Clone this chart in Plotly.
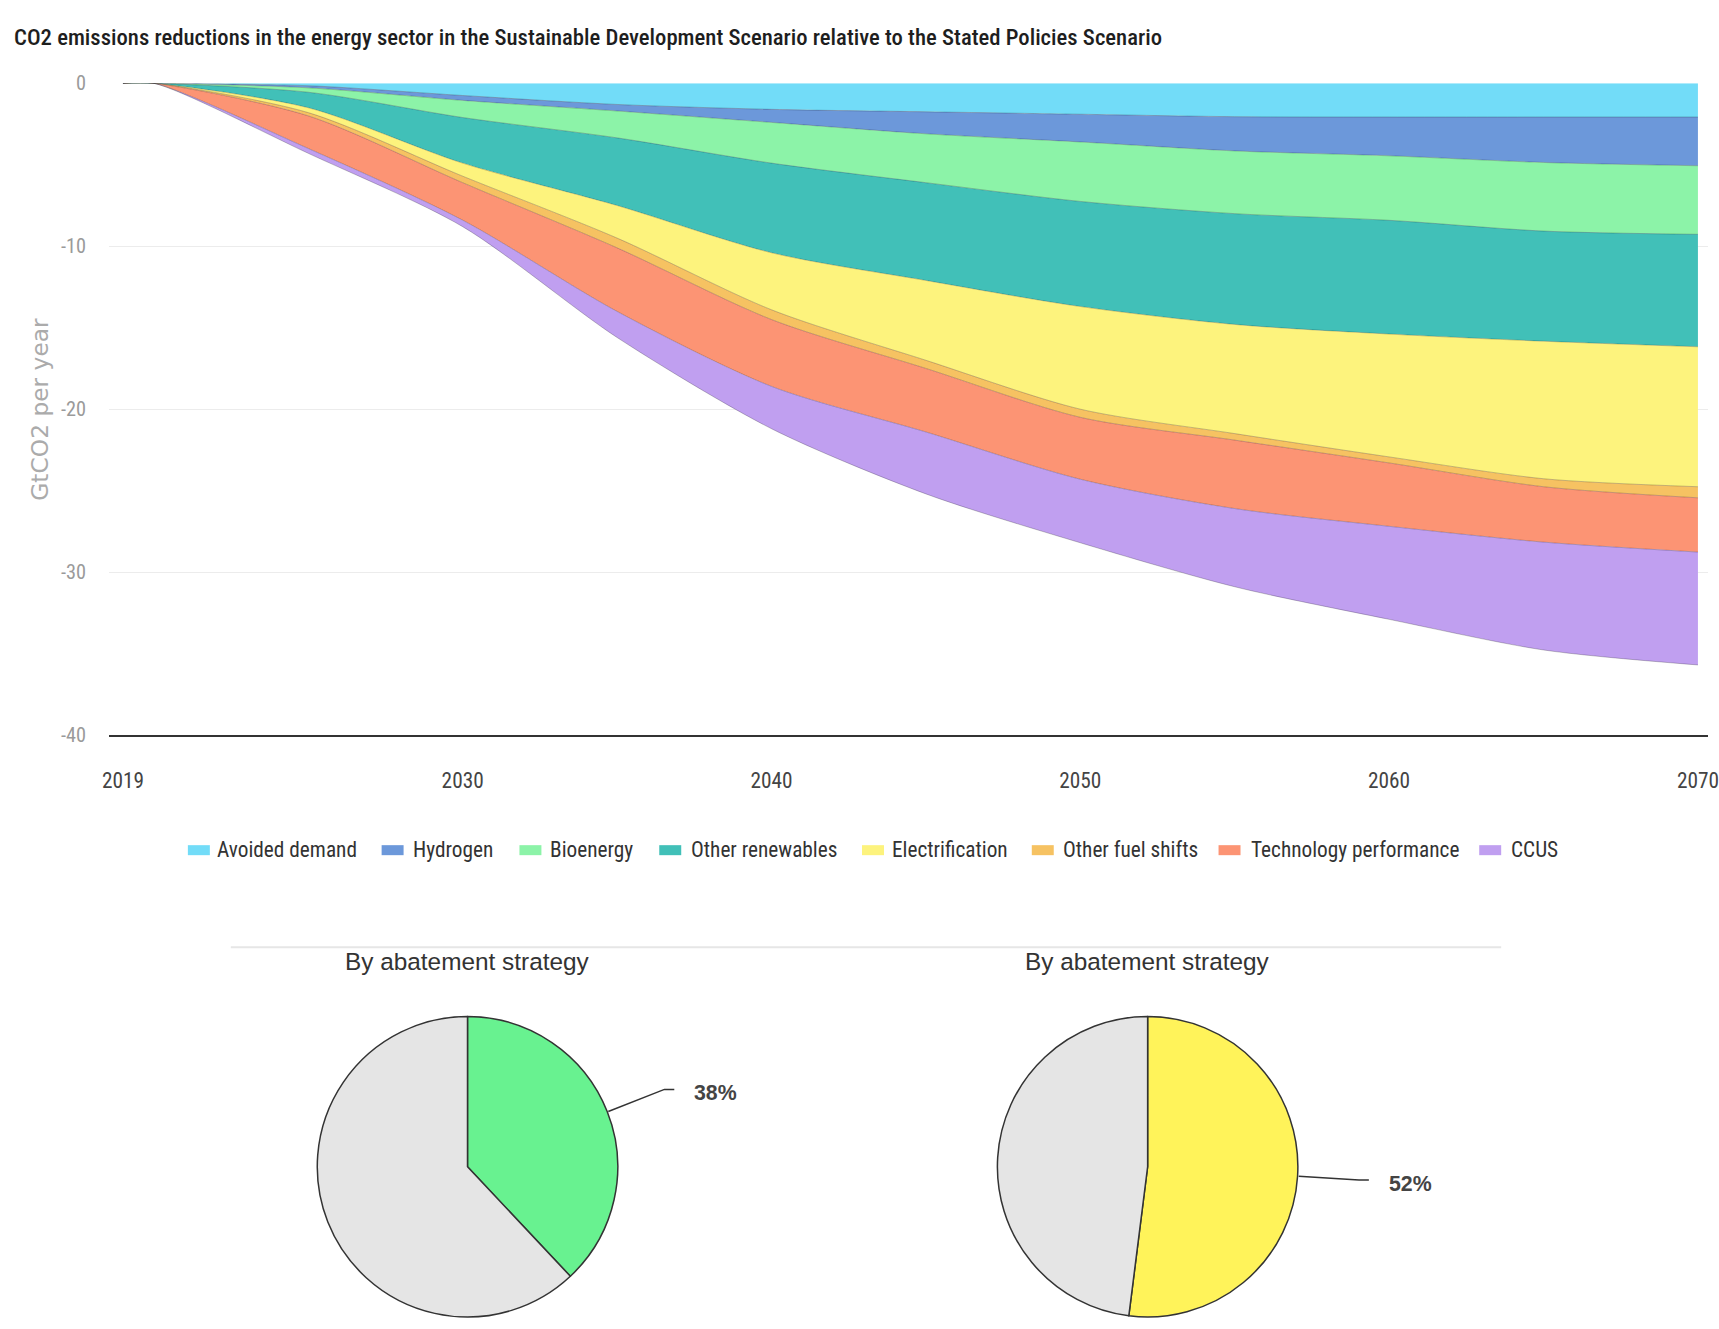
import math
import plotly.graph_objects as go

W, H = 1719, 1329

# ---- data -------------------------------------------------------------
years = [2019, 2020, 2025, 2030, 2035, 2040, 2045, 2050, 2055, 2060, 2065, 2070]

avoided_demand = [0, 0, -0.15, -0.75, -1.30, -1.60, -1.75, -1.90, -2.05, -2.07, -2.07, -2.07]
hydrogen = [0, 0, -0.13, -0.30, -0.40, -0.80, -1.35, -1.70, -2.10, -2.38, -2.79, -2.99]
bioenergy = [0, 0, -0.27, -1.05, -1.65, -2.50, -3.00, -3.65, -3.85, -3.96, -4.21, -4.21]
other_renewables = [0, 0, -0.95, -2.80, -4.15, -5.50, -6.00, -6.45, -6.80, -6.98, -6.76, -6.90]
electrification = [0, 0, -0.30, -0.80, -2.00, -3.50, -4.90, -6.30, -6.70, -7.54, -8.44, -8.59]
other_fuel_shifts = [0, 0, -0.20, -0.40, -0.60, -0.60, -0.50, -0.50, -0.40, -0.37, -0.49, -0.68]
technology_performance = [0, 0, -2.00, -2.30, -3.90, -4.10, -3.90, -3.80, -4.20, -3.89, -3.40, -3.33]
ccus = [0, 0, -0.30, -0.40, -1.60, -2.60, -3.80, -3.90, -4.80, -5.71, -6.62, -6.93]

series_names = ["Avoided demand", "Hydrogen", "Bioenergy", "Other renewables",
                "Electrification", "Other fuel shifts", "Technology performance", "CCUS"]
series_values = [avoided_demand, hydrogen, bioenergy, other_renewables,
                 electrification, other_fuel_shifts, technology_performance, ccus]

x_tick_years = [2019, 2030, 2040, 2050, 2060, 2070]
y_tick_values = [0, -10, -20, -30, -40]
y_tick_labels = ["0", "-10", "-20", "-30", "-40"]

pie_title = "By abatement strategy"
bioenergy_share = [38, 62]
electrification_share = [52, 48]

# ---- styles -----------------------------------------------------------
COND = "Roboto Condensed, DejaVu Sans Condensed, sans-serif"
SANS = "Liberation Sans, Arial, sans-serif"
FS = 1.015  # font scale

fill_colors = ["#72DCF8", "#6C98DA", "#8CF3A8", "#41C0B8",
               "#FDF37D", "#F6C262", "#FC9474", "#C09FF0"]
edge_color = "rgba(0,0,0,0.22)"

# page-space layout positions are converted to figure pixels with the
# offset/scale of the surrounding page
SX, OX = 0.9908, 7.9
SY, OY = 0.9808, 10.8


def fx(x):
    return (x - OX) / SX


def fy(y):
    return (y - OY) / SY


def px_x(x):
    return min(1.0, max(0.0, fx(x) / W))


def px_y(y):
    return min(1.0, max(0.0, 1 - fy(y) / H))


fig = go.Figure()

# stacked areas
for name, vals, fc in zip(series_names, series_values, fill_colors):
    fig.add_trace(go.Scatter(
        x=years, y=vals, name=name, mode="lines",
        stackgroup="abatement", fillcolor=fc,
        line=dict(color=edge_color, width=1, shape="spline", smoothing=0.8),
        hoverinfo="skip", showlegend=False,
    ))

# plot area
PL, PT, PB = 110, 82, 733
x_first, x_last = fx(124), fx(1701)          # where 2019 and 2070 sit
ppy = (x_last - x_first) / 51.0
dom_l, dom_r = fx(PL), float(W)
x_lo = 2019 - (x_first - dom_l) / ppy
x_hi = 2070 + (dom_r - x_last) / ppy

fig.update_layout(
    width=W, height=H, autosize=False,
    margin=dict(l=0, r=0, t=0, b=0),
    paper_bgcolor="white", plot_bgcolor="white",
    showlegend=False,
    xaxis=dict(
        domain=[dom_l / W, 1.0], range=[x_lo, x_hi],
        tickvals=x_tick_years, ticktext=[str(y) for y in x_tick_years],
        showgrid=False, zeroline=False, showline=True,
        linecolor="#333333", linewidth=2, ticks="",
        ticklabelstandoff=25, ticklabeloverflow="allow",
        tickfont=dict(family=COND, size=21 * FS, color="#444444"),
        fixedrange=True,
    ),
    yaxis=dict(
        domain=[px_y(PB), px_y(PT)], range=[-40, 0],
        tickvals=y_tick_values, ticktext=y_tick_labels,
        showgrid=True, gridcolor="#ececec", gridwidth=1,
        zeroline=False, showline=False, ticks="",
        ticklabelstandoff=22,
        tickfont=dict(family=COND, size=20 * FS, color="#9a9a9a"),
        fixedrange=True,
    ),
)

annotations = []
shapes = []

# chart title
annotations.append(dict(
    x=px_x(13), y=px_y(36), xref="paper", yref="paper",
    xanchor="left", yanchor="middle", showarrow=False,
    text="CO2 emissions reductions in the energy sector in the Sustainable Development Scenario relative to the Stated Policies Scenario",
    font=dict(family=COND, size=22.7, color="#1e1e1e", weight=500),
))

# y-axis title
annotations.append(dict(
    x=px_x(41), y=px_y(408), xref="paper", yref="paper",
    xanchor="center", yanchor="middle", showarrow=False, textangle=-90,
    text="GtCO2 per year",
    font=dict(family="DejaVu Sans, sans-serif", size=23 * FS, color="#ababab"),
))

# legend row
legend_swatch_x = [189, 383, 521, 661, 864, 1034, 1221, 1482]
legend_text_x = [216, 412, 550, 691, 892, 1063, 1251, 1512]
legend_y = 848
for name, fc, sx, tx in zip(series_names, fill_colors, legend_swatch_x, legend_text_x):
    shapes.append(dict(
        type="rect", xref="paper", yref="paper",
        x0=px_x(sx), x1=px_x(sx + 22), y0=px_y(legend_y + 5), y1=px_y(legend_y - 5),
        fillcolor=fc, line=dict(width=0),
    ))
    annotations.append(dict(
        x=px_x(tx), y=px_y(legend_y - 1), xref="paper", yref="paper",
        xanchor="left", yanchor="middle", showarrow=False, text=name,
        font=dict(family=COND, size=21 * FS, color="#333333"),
    ))

# separator above the pies
shapes.append(dict(
    type="line", xref="paper", yref="paper",
    x0=px_x(232), x1=px_x(1504), y0=px_y(945), y1=px_y(945),
    line=dict(color="#e6e6e6", width=2),
))

# pies (figure pixels)
pie_r = 153
pie_cy = H - pie_r
pies = [
    (fx(469), bioenergy_share, ["#68F290", "#E5E5E5"]),
    (fx(1150), electrification_share, ["#FFF35A", "#E5E5E5"]),
]
for cx, share, colors in pies:
    fig.add_trace(go.Pie(
        values=share, sort=False, direction="clockwise", rotation=0,
        marker=dict(colors=colors, line=dict(color="#333333", width=1.5)),
        textinfo="none", hoverinfo="skip", showlegend=False,
        domain=dict(x=[(cx - pie_r) / W, (cx + pie_r) / W],
                    y=[0.0, 1 - (pie_cy - pie_r) / H]),
    ))
    annotations.append(dict(
        x=cx / W, y=px_y(959), xref="paper", yref="paper",
        xanchor="center", yanchor="middle", showarrow=False, text=pie_title,
        font=dict(family=SANS, size=24 * FS, color="#333333"),
    ))
    # leader line from the middle of the highlighted slice
    theta = math.radians(share[0] / sum(share) * 360 / 2)
    ux, uy = math.sin(theta), -math.cos(theta)
    ex, ey = cx + pie_r * ux, pie_cy + pie_r * uy
    kx, ky = ex + 61 * ux, ey + 61 * uy
    lx = kx + 10
    shapes.append(dict(
        type="path", xref="paper", yref="paper",
        path=f"M {ex / W},{1 - ey / H} L {kx / W},{1 - ky / H} L {lx / W},{1 - ky / H}",
        line=dict(color="#333333", width=1.5),
    ))
    annotations.append(dict(
        x=(lx + 18) / W, y=1 - (ky + 4) / H, xref="paper", yref="paper",
        xanchor="left", yanchor="middle", showarrow=False,
        text=f"<b>{share[0]}%</b>",
        font=dict(family=SANS, size=21 * FS, color="#444444"),
    ))

fig.update_layout(annotations=annotations, shapes=shapes)

fig.write_html("out.html", config=dict(staticPlot=True, displayModeBar=False))
